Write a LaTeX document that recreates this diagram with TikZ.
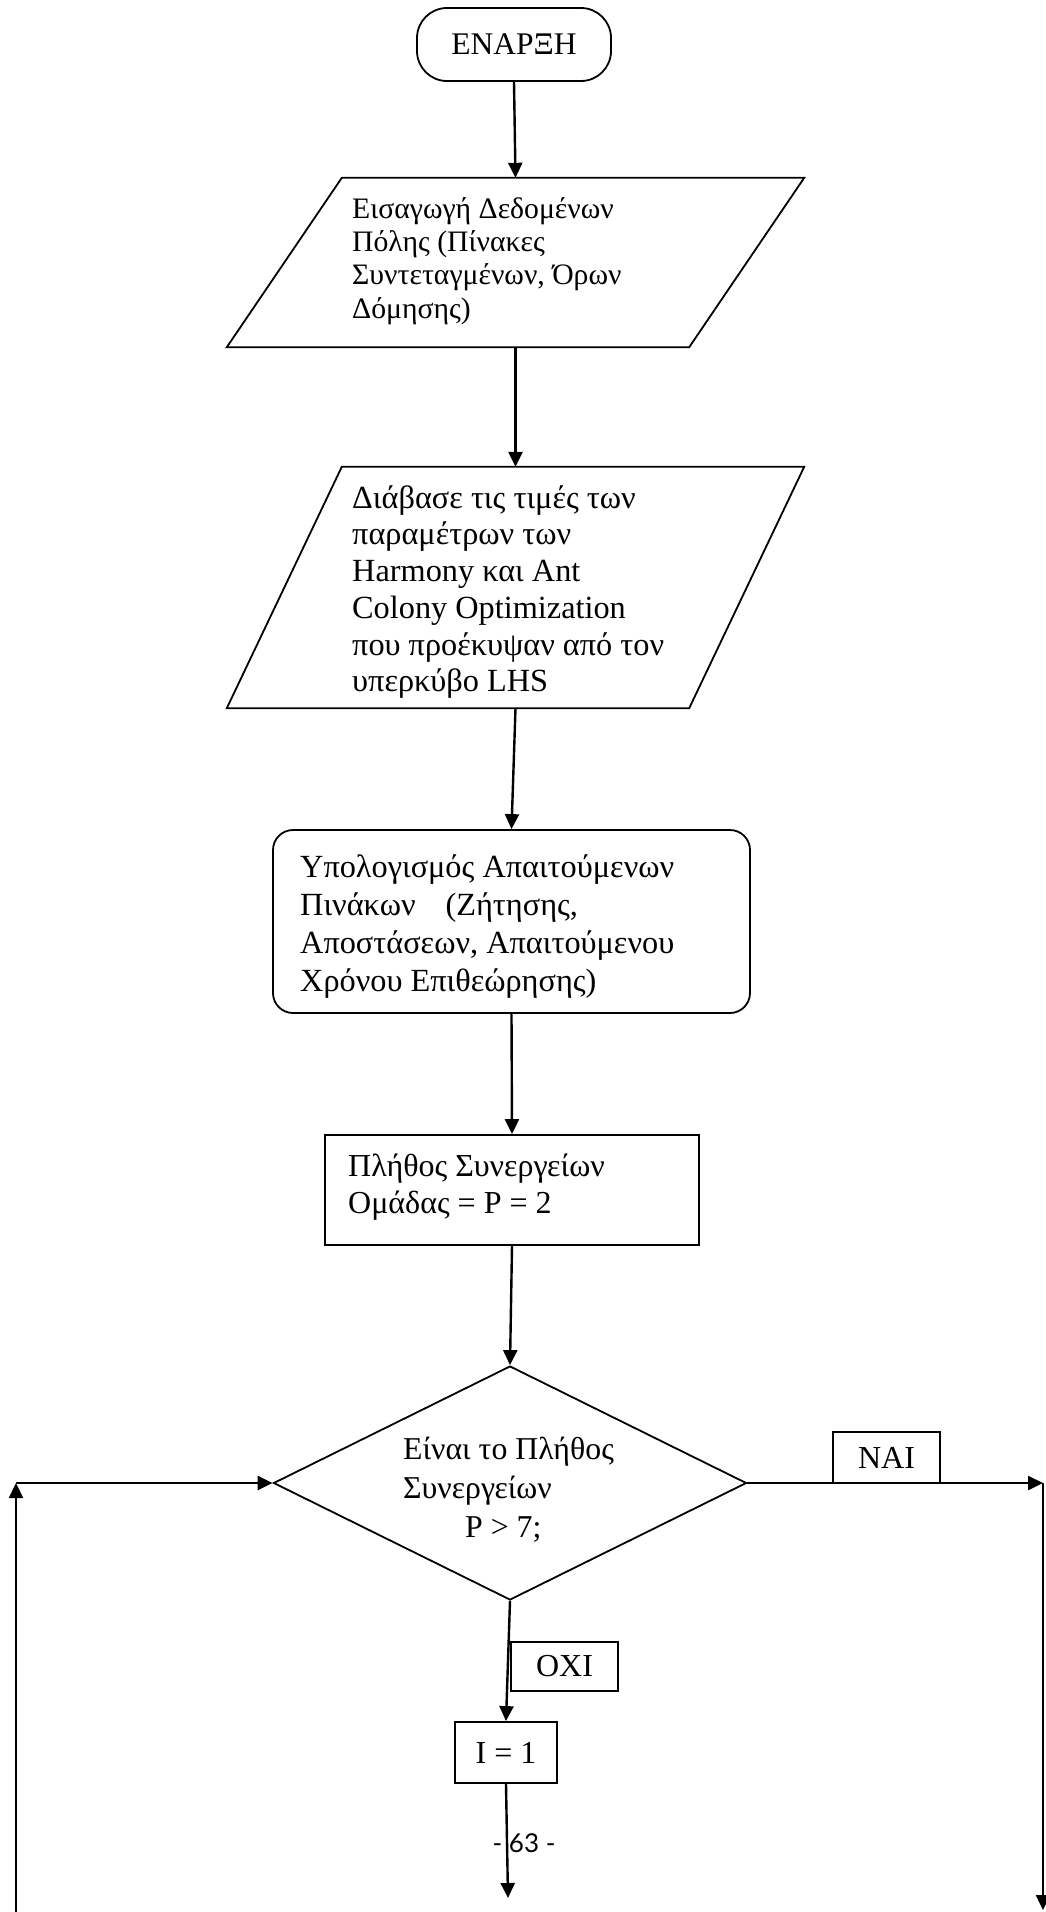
\documentclass[tikz,border=0pt]{standalone}
\usepackage{fontspec}
\setmainfont{Liberation Serif}
\newfontfamily\pgnum{Lato}
\usetikzlibrary{arrows.meta,shapes.geometric,calc}
\begin{document}
\begin{tikzpicture}[x=1pt,y=-1pt,
  box/.style={draw,line width=1.8pt,inner sep=0pt},
  shapeline/.style={line width=1.8pt,line join=miter},
  conn/.style={line width=2.4pt,-{Triangle[length=15pt,width=14pt]}},
  txt/.style={anchor=west,align=left,inner sep=0pt},
]
\useasboundingbox[fill=white] (0,0) rectangle (1046,1912);

% start
\node[box,rounded corners=30pt,minimum width=194pt,minimum height=73pt,
      font=\fontsize{31.5}{36}\selectfont] (start) at (514,44.5) {ΕΝΑΡΞΗ};

% input 1
\node[inner sep=0pt,minimum width=577pt,minimum height=169pt] (p1) at (515.5,262.5) {};
\draw[shapeline] ($(p1.north west)+(115,0)$) -- (p1.north east)
  -- ($(p1.south east)+(-115,0)$) -- (p1.south west) -- cycle;
\node[txt,font=\fontsize{29.7}{33.3}\selectfont] (p1t) at (352,261)
  {Εισαγωγή Δεδομένων\\Πόλης (Πίνακες\\Συντεταγμένων, Όρων\\Δόμησης)};

% input 2
\node[inner sep=0pt,minimum width=577pt,minimum height=241pt] (p2) at (515.5,587.5) {};
\draw[shapeline] ($(p2.north west)+(115,0)$) -- (p2.north east)
  -- ($(p2.south east)+(-115,0)$) -- (p2.south west) -- cycle;
\node[txt,font=\fontsize{32.3}{36.7}\selectfont] (p2t) at (352,592)
  {Διάβασε τις τιμές των\\παραμέτρων των\\Harmony και Ant\\Colony Optimization\\που προέκυψαν από τον\\υπερκύβο LHS};

% process
\node[box,rounded corners=20pt,minimum width=477pt,minimum height=183pt] (calc) at (511.5,921.5) {};
\node[txt,font=\fontsize{32.3}{38}\selectfont] (calct) at (300,927)
  {Υπολογισμός Απαιτούμενων\\Πινάκων\hspace{30pt}(Ζήτησης,\\Αποστάσεων, Απαιτούμενου\\Χρόνου Επιθεώρησης)};

% crews
\node[box,minimum width=374pt,minimum height=110pt] (crew) at (512,1190) {};
\node[txt,font=\fontsize{32}{37}\selectfont] (crewt) at (348,1187)
  {Πλήθος Συνεργείων\\Ομάδας = P = 2};

% decision
\node[diamond,draw,line width=1.8pt,inner sep=0pt,minimum width=473pt,minimum height=234pt] (dec) at (510,1483) {};
\node[txt,font=\fontsize{31.8}{39}\selectfont] (dect) at (403,1490)
  {Είναι το Πλήθος\\Συνεργείων\\\hspace*{62pt}P > 7;};

% labels
\node[box,minimum width=107pt,minimum height=51pt,font=\fontsize{32}{36}\selectfont] (nai) at (886.5,1457.5) {ΝΑΙ};
\node[box,minimum width=107pt,minimum height=49pt,font=\fontsize{32}{36}\selectfont] (oxi) at (564.5,1666.5) {ΟΧΙ};

% I = 1
\node[box,minimum width=102pt,minimum height=61pt,font=\fontsize{32}{36}\selectfont] (i1) at (506,1752.5) {I = 1};

% page number
\node[inner sep=0pt,font=\pgnum\fontsize{26}{30}\selectfont] (pg) at (524,1843) {- 63 -};

% free ends
\coordinate (rc) at (1043,1483);
\coordinate (rb) at (1043,1910);
\coordinate (lb) at (16,1912);
\coordinate (lc) at (16,1483);
\coordinate (bot) at (508,1898);

% connectors
\draw[conn] (start.south) -- (p1.north);
\draw[conn] (p1.south) -- (p2.north);
\draw[conn] (p2.south) -- (calc.north);
\draw[conn] (calc.south) -- (crew.north);
\draw[conn] (crew.south) -- (dec.north);
\draw[conn] (dec.east) -- (rc);
\draw[conn] (rc) -- (rb);
\draw[conn] (lb) -- (lc);
\draw[conn] (lc) -- (dec.west);
\draw[conn] (dec.south) -- (i1.north);
\draw[conn] (i1.south) -- (bot);
\end{tikzpicture}
\end{document}
